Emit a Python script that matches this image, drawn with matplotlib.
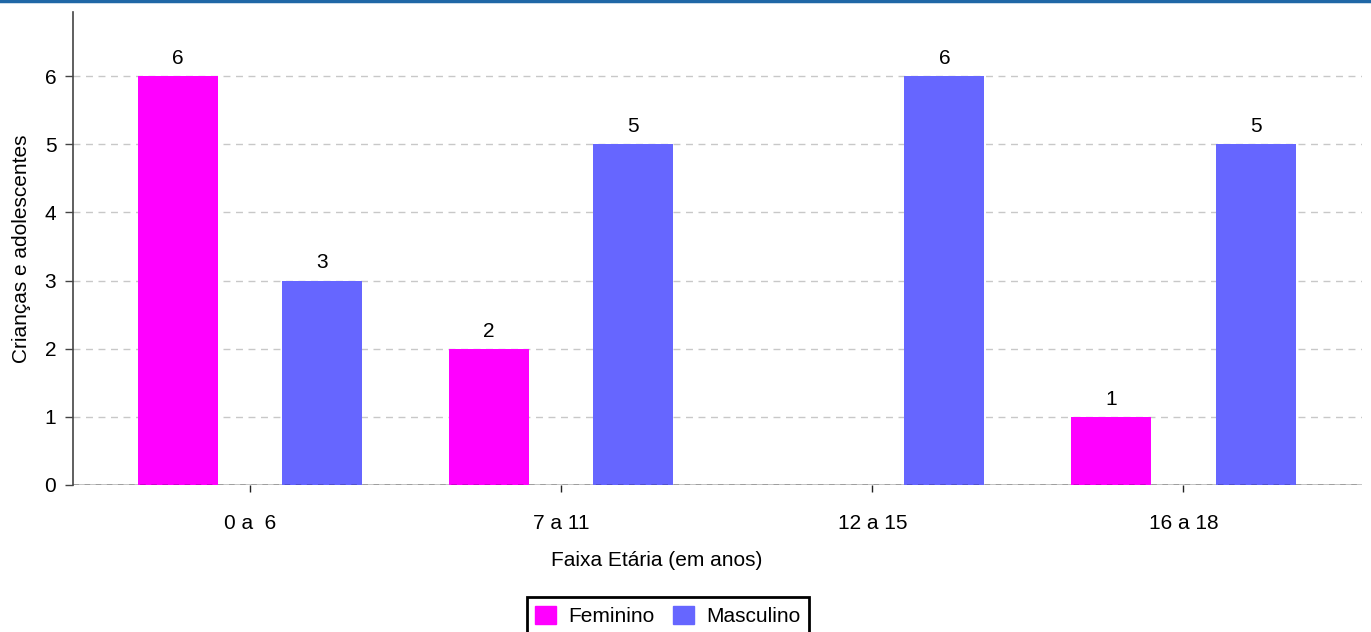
import matplotlib
matplotlib.use("Agg")
import matplotlib.pyplot as plt
import numpy as np
from matplotlib.patches import Patch

categories = ["0 a  6", "7 a 11", "12 a 15", "16 a 18"]
feminino = [6, 2, 0, 1]
masculino = [3, 5, 6, 5]
yticks = [0, 1, 2, 3, 4, 5, 6]

plt.rcParams['font.family'] = ['Liberation Sans', 'DejaVu Sans']

fig = plt.figure(figsize=(13.71, 6.32), dpi=100)
W, H = 1371, 632
ax = fig.add_axes([73 / W, 1 - 485 / H, (1362 - 73) / W, (485 - 12) / H])

x = np.arange(len(categories))
off = 0.232
bw = 0.257
fem_c = "#ff00ff"
mas_c = "#6666ff"
fs = 15

for i, v in enumerate(feminino):
    if v > 0:
        ax.bar(x[i] - off, v, bw, color=fem_c, zorder=3)
        ax.text(x[i] - off, v + 0.12, str(v), ha="center", va="bottom", fontsize=fs, zorder=4)
for i, v in enumerate(masculino):
    if v > 0:
        ax.bar(x[i] + off, v, bw, color=mas_c, zorder=3)
        ax.text(x[i] + off, v + 0.12, str(v), ha="center", va="bottom", fontsize=fs, zorder=4)

ax.set_xlim(-0.569, 3.574)
ax.set_ylim(0, 6.94)
ax.set_yticks(yticks)
ax.set_yticklabels([str(t) for t in yticks], fontsize=fs)
ax.set_xticks(x)
ax.set_xticklabels(categories, fontsize=fs)
ax.tick_params(axis="y", direction="out", length=6, width=1, color="#444444", pad=6)
ax.tick_params(axis="x", direction="out", length=5, width=1, color="#222222", pad=16)

for t in yticks[1:]:
    ax.axhline(t, color="#c8c8c8", lw=1, ls=(0, (5, 4)), zorder=1)
ax.axhline(0, color="#c0c0c0", lw=2, zorder=2)
ax.axhline(0, color="#000000", lw=1, ls=(0, (4, 4)), zorder=5)

for s in ["top", "right", "bottom"]:
    ax.spines[s].set_visible(False)
ax.spines["left"].set_color("#444444")
ax.spines["left"].set_linewidth(1.2)

ax.set_ylabel("Crianças e adolescentes", fontsize=fs, labelpad=10)
fig.text(657 / W, 1 - 560 / H, "Faixa Etária (em anos)", fontsize=fs, ha="center", va="center")

handles = [Patch(color=fem_c, label="Feminino"), Patch(color=mas_c, label="Masculino")]
leg = fig.legend(handles=handles, loc="center", bbox_to_anchor=(668 / W, 1 - 616 / H), ncol=2,
                 fontsize=fs, frameon=True, fancybox=False, edgecolor="black", framealpha=1,
                 handlelength=1.0, handleheight=1.0, handletextpad=0.6, columnspacing=0.9,
                 borderpad=0.4)
leg.get_frame().set_linewidth(2)

fig.add_artist(plt.Line2D([0, 1], [1 - 1 / H, 1 - 1 / H], color="#1f67a6", lw=2.5, transform=fig.transFigure))

fig.savefig("out.png", dpi=100)
